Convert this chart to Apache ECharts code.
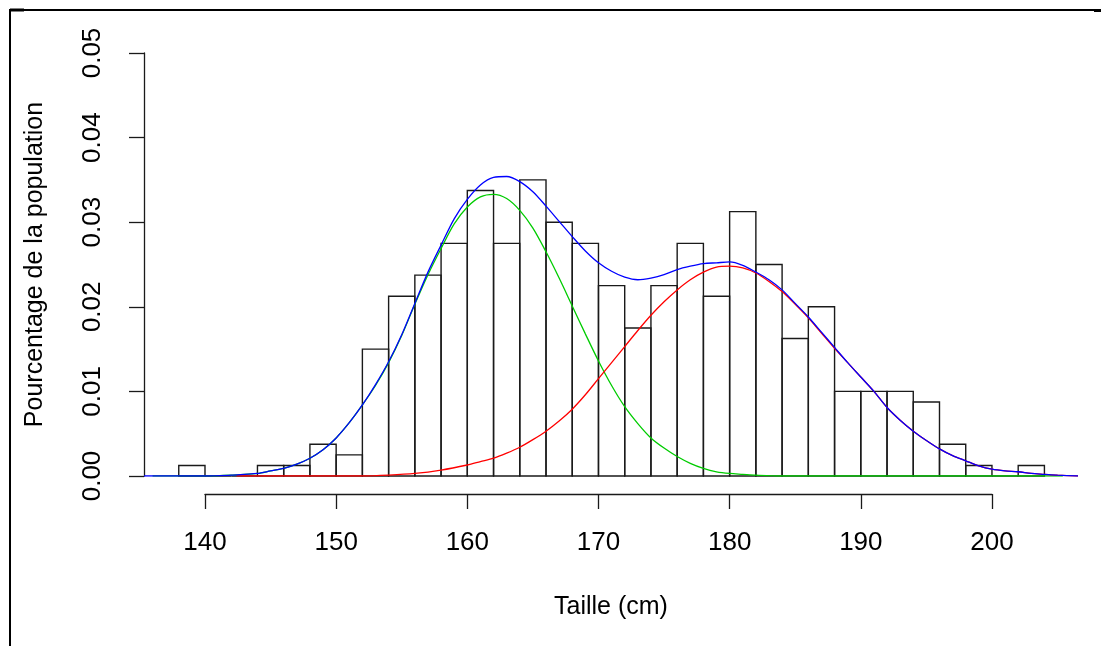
<!DOCTYPE html>
<html>
<head>
<meta charset="utf-8">
<script src="https://cdn.jsdelivr.net/npm/echarts@6/dist/echarts.min.js"></script>
<style>
  html, body { margin: 0; padding: 0; background: #fff; }
  #chart { width: 1101px; height: 646px; }
</style>
</head>
<body>
<div id="chart"></div>
<script>
// Histogram of heights: left edge of each 2 cm bin and its density
const binStart = [138, 140, 142, 144, 146, 148, 150, 152, 154, 156, 158, 160, 162, 164, 166, 168,
                  170, 172, 174, 176, 178, 180, 182, 184, 186, 188, 190, 192, 194, 196, 198, 200, 202];
const binWidth = 2;
const density = [0.00125, 0, 0, 0.00125, 0.00125, 0.00375, 0.0025, 0.015, 0.02125, 0.02375, 0.0275, 0.03375,
                 0.0275, 0.035, 0.03, 0.0275, 0.0225, 0.0175, 0.0225, 0.0275, 0.02125, 0.03125, 0.025, 0.01625,
                 0.02, 0.01, 0.01, 0.01, 0.00875, 0.00375, 0.00125, 0, 0.00125];

// Mixture density (blue)
const mixtureX = [135.35, 138, 140, 142, 143, 144, 145, 146, 147, 148, 149, 150, 151, 152, 153, 154, 155, 156,
                  157, 158, 159, 160, 161, 162, 163, 164, 165, 166, 167, 168, 169, 170, 171, 172, 173, 174, 175,
                  176, 177, 178, 179, 180, 181, 182, 183, 184, 185, 186, 187, 188, 189, 190, 191, 192, 193, 194,
                  195, 196, 197, 198, 199, 200, 201, 202, 203, 204, 205, 206.56];
const mixtureY = [0, 0, 0, 0.0001, 0.0002, 0.0003, 0.0006, 0.0009, 0.0014, 0.0021, 0.0031, 0.0045, 0.0063, 0.0084,
                  0.0108, 0.0135, 0.0167, 0.0204, 0.0241, 0.0273, 0.0304, 0.0327, 0.0344, 0.0353, 0.0354, 0.0348,
                  0.0336, 0.0319, 0.0301, 0.0283, 0.0266, 0.0252, 0.0242, 0.0235, 0.0232, 0.0234, 0.0238, 0.0244,
                  0.0248, 0.0251, 0.0252, 0.0253, 0.0249, 0.0241, 0.0232, 0.0220, 0.0204, 0.0188, 0.0170, 0.0152,
                  0.0134, 0.0117, 0.0100, 0.0081, 0.0066, 0.0053, 0.0042, 0.0032, 0.0024, 0.0018, 0.0012, 0.0008,
                  0.0006, 0.0005, 0.0003, 0.0002, 0.0001, 0];

// First component (green)
const comp1X = [136, 140, 142, 144, 145, 146, 147, 148, 149, 150, 151, 152, 153, 154, 155, 156, 157, 158, 159, 160,
                161, 162, 163, 164, 165, 166, 167, 168, 169, 170, 171, 172, 173, 174, 175, 176, 177, 178, 179, 180,
                181, 182, 184, 205.4];
const comp1Y = [0, 0, 0.0001, 0.0003, 0.0006, 0.0009, 0.0014, 0.0021, 0.0031, 0.0045, 0.0063, 0.0084, 0.0107,
                0.0134, 0.0166, 0.0203, 0.0238, 0.0269, 0.0298, 0.0318, 0.0330, 0.0333, 0.0328, 0.0314, 0.0293,
                0.0265, 0.0234, 0.0201, 0.0168, 0.0136, 0.0107, 0.0082, 0.0062, 0.0045, 0.0033, 0.0023, 0.0015,
                0.0009, 0.0005, 0.0003, 0.0002, 0.0001, 0, 0];

// Second component (red)
const comp2X = [142.4, 150, 152, 154, 156, 158, 160, 161, 162, 163, 164, 165, 166, 167, 168, 169, 170, 171, 172,
                173, 174, 175, 176, 177, 178, 179, 180, 181, 182, 183, 184, 185, 186, 187, 188, 189, 190, 191, 192,
                193, 194, 195, 196, 197, 198, 199, 200, 201, 202, 203, 204, 205, 206.56];
const comp2Y = [0, 0, 0, 0.0001, 0.0003, 0.0007, 0.0013, 0.0017, 0.0021, 0.0027, 0.0034, 0.0043, 0.0053, 0.0065,
                0.0079, 0.0096, 0.0115, 0.0134, 0.0153, 0.0172, 0.0190, 0.0206, 0.0220, 0.0232, 0.0241, 0.0247,
                0.0248, 0.0246, 0.0240, 0.0230, 0.0218, 0.0203, 0.0187, 0.0169, 0.0151, 0.0134, 0.0117, 0.0100,
                0.0081, 0.0066, 0.0053, 0.0042, 0.0032, 0.0024, 0.0018, 0.0012, 0.0008, 0.0006, 0.0005, 0.0003,
                0.0002, 0.0001, 0];

const xTickMin = 140, xTickMax = 200, xTickStep = 10;
const yMin = 0, yMax = 0.05, yStep = 0.01;

const FONT = '"Liberation Sans", Arial, sans-serif';
const INK = '#1a1a1a';

const zip = (xs, ys) => xs.map((x, i) => [x, ys[i]]);
const bars = binStart.map((s, i) => [s, s + binWidth, density[i]]);

const chart = echarts.init(document.getElementById('chart'), null, { renderer: 'canvas' });

const curve = (name, xs, ys, color) => ({
  name, type: 'line', xAxisIndex: 0, yAxisIndex: 0,
  data: zip(xs, ys), showSymbol: false, smooth: 0.3,
  lineStyle: { color, width: 1.3 }, silent: true
});

chart.setOption({
  animation: false,
  backgroundColor: '#fff',
  grid: [
    { left: 144, top: 53, width: 934, height: 423, outerBoundsMode: 'none' },
    { left: 205, top: 53, width: 787, height: 441, outerBoundsMode: 'none' }
  ],
  xAxis: [
    {
      gridIndex: 0, type: 'value', min: 135.35, max: 206.56,
      axisLine: { show: false }, axisTick: { show: false }, axisLabel: { show: false }, splitLine: { show: false },
      name: 'Taille (cm)', nameLocation: 'middle', nameGap: 119,
      nameTextStyle: { fontFamily: FONT, fontSize: 25, color: '#000' }
    },
    {
      gridIndex: 1, type: 'value', min: xTickMin, max: xTickMax, interval: xTickStep,
      axisLine: { show: true, lineStyle: { color: INK, width: 1.3 } },
      axisTick: { show: true, inside: false, length: 15, lineStyle: { color: INK, width: 1.3 } },
      axisLabel: { show: true, margin: 36, fontFamily: FONT, fontSize: 26, color: '#000' },
      splitLine: { show: false }
    }
  ],
  yAxis: [
    {
      gridIndex: 0, type: 'value', min: yMin, max: yMax, interval: yStep,
      axisLine: { show: true, lineStyle: { color: INK, width: 1.3 } },
      axisTick: { show: true, inside: false, length: 15, lineStyle: { color: INK, width: 1.3 } },
      axisLabel: { show: true, rotate: 90, margin: 38, fontFamily: FONT, fontSize: 26, color: '#000',
                   formatter: v => v.toFixed(2) },
      splitLine: { show: false },
      name: 'Pourcentage de la population', nameLocation: 'middle', nameRotate: 90, nameGap: 96,
      nameTextStyle: { fontFamily: FONT, fontSize: 25, color: '#000' }
    },
    { gridIndex: 1, type: 'value', min: 0, max: 1, show: false }
  ],
  series: [
    {
      type: 'custom', xAxisIndex: 0, yAxisIndex: 0, silent: true,
      data: bars,
      encode: { x: [0, 1], y: 2 },
      renderItem: (params, api) => {
        const p0 = api.coord([api.value(0), api.value(2)]);
        const p1 = api.coord([api.value(1), 0]);
        return {
          type: 'rect',
          shape: { x: p0[0], y: p0[1], width: p1[0] - p0[0], height: p1[1] - p0[1] },
          style: { fill: 'none', stroke: INK, lineWidth: 1.4 }
        };
      }
    },
    curve('composante 1', comp1X, comp1Y, '#00cc00'),
    curve('composante 2', comp2X, comp2Y, '#ff0000'),
    curve('mélange', mixtureX, mixtureY, '#0000ff')
  ],
  // page frame: top and left border
  graphic: [
    { type: 'line', silent: true, shape: { x1: 10, y1: 10, x2: 1101, y2: 10 }, style: { stroke: '#000', lineWidth: 2 } },
    { type: 'line', silent: true, shape: { x1: 10, y1: 9, x2: 10, y2: 646 }, style: { stroke: '#000', lineWidth: 2 } },
    { type: 'line', silent: true, shape: { x1: 10, y1: 10, x2: 24, y2: 10 }, style: { stroke: '#000', lineWidth: 3 } },
    { type: 'line', silent: true, shape: { x1: 1094, y1: 10.5, x2: 1101, y2: 10.5 }, style: { stroke: '#000', lineWidth: 3 } }
  ]
});
</script>
</body>
</html>
